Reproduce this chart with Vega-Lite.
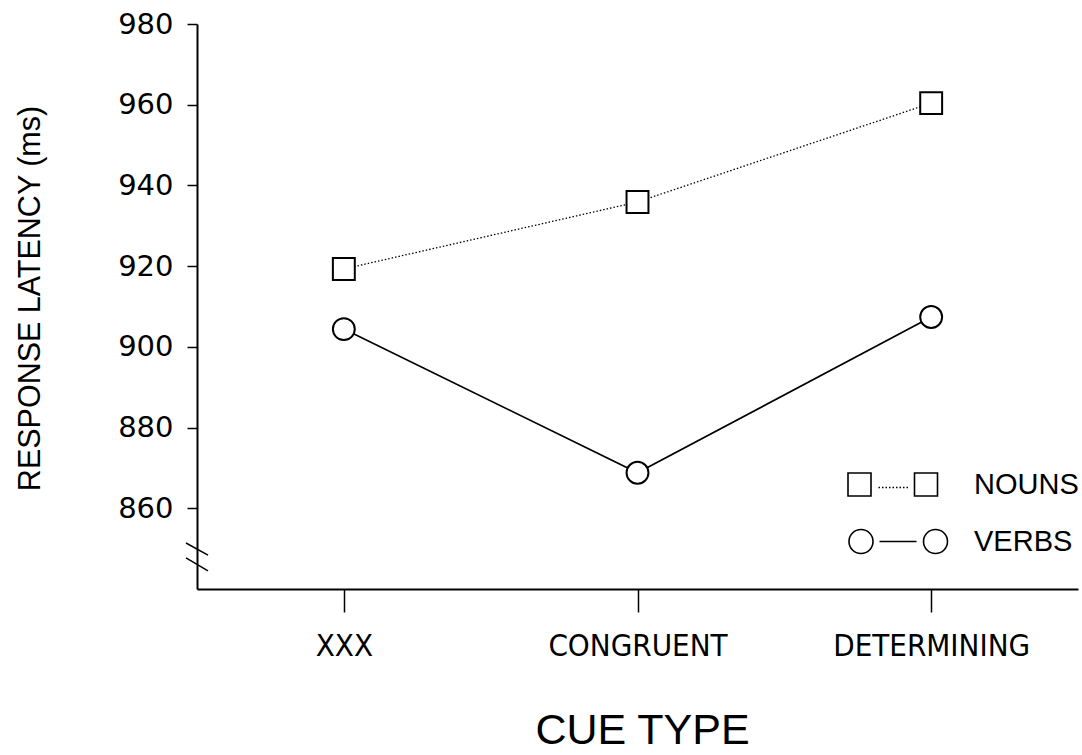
{
  "$schema": "https://vega.github.io/schema/vega-lite/v6.json",
  "width": 881,
  "height": 565,
  "autosize": "none",
  "padding": {"left": 197, "top": 24, "right": 4, "bottom": 166},
  "background": "white",
  "config": {"view": {"stroke": null}},
  "datasets": {
    "main": [
      {"cue": "XXX", "series": "NOUNS", "latency": 919.3},
      {"cue": "CONGRUENT", "series": "NOUNS", "latency": 935.9},
      {"cue": "DETERMINING", "series": "NOUNS", "latency": 960.4},
      {"cue": "XXX", "series": "VERBS", "latency": 904.4},
      {"cue": "CONGRUENT", "series": "VERBS", "latency": 868.8},
      {"cue": "DETERMINING", "series": "VERBS", "latency": 907.4}
    ],
    "breaks": [
      {"y": 851.4, "y2": 848.4},
      {"y": 847.7, "y2": 844.5}
    ]
  },
  "resolve": {"scale": {"shape": "independent"}, "legend": {"shape": "independent"}},
  "layer": [
    {
      "data": {"name": "main"},
      "transform": [{"filter": "datum.series === 'NOUNS'"}],
      "mark": {"type": "line", "color": "black", "strokeWidth": 1.3, "strokeDash": [1.5, 2]},
      "encoding": {
        "x": {
          "field": "cue", "type": "ordinal", "sort": ["XXX", "CONGRUENT", "DETERMINING"],
          "scale": {"type": "point", "padding": 0.5},
          "axis": {
            "title": "CUE TYPE",
            "domainColor": "black", "domainWidth": 2,
            "tickColor": "black", "tickWidth": 1.5, "tickSize": 23,
            "labelFont": "DejaVu Sans Condensed, Liberation Sans, sans-serif",
            "labelFontSize": 31, "labelColor": "black", "labelPadding": 19,
            "labelAngle": 0, "labelLimit": 0,
            "titleFont": "Liberation Sans, sans-serif", "titleFontSize": 43,
            "titleFontWeight": "normal", "titleColor": "black",
            "titleX": 445, "titleY": 154, "titleBaseline": "alphabetic", "titleAlign": "center"
          }
        },
        "y": {
          "field": "latency", "type": "quantitative",
          "scale": {"domain": [840, 980], "nice": false, "zero": false},
          "axis": {
            "title": "RESPONSE LATENCY (ms)",
            "values": [860, 880, 900, 920, 940, 960, 980],
            "grid": false,
            "domainColor": "black", "domainWidth": 2,
            "tickColor": "black", "tickWidth": 1.5, "tickSize": 10,
            "labelFont": "DejaVu Sans, sans-serif", "labelFontSize": 29, "labelColor": "black", "labelPadding": 14,
            "titleFont": "Liberation Sans, sans-serif", "titleFontSize": 30.5,
            "titleFontWeight": "normal", "titleColor": "black",
            "titleX": -167, "titleY": 274, "titleAngle": -90, "titleAlign": "center", "titleBaseline": "middle"
          }
        }
      }
    },
    {
      "data": {"name": "main"},
      "transform": [{"filter": "datum.series === 'VERBS'"}],
      "mark": {"type": "line", "color": "black", "strokeWidth": 1.7},
      "encoding": {
        "x": {"field": "cue", "type": "ordinal", "sort": ["XXX", "CONGRUENT", "DETERMINING"]},
        "y": {"field": "latency", "type": "quantitative"}
      }
    },
    {
      "data": {"name": "main"},
      "mark": {"type": "point", "filled": false, "fill": "white", "fillOpacity": 1, "stroke": "black", "strokeWidth": 2, "size": 480, "opacity": 1},
      "encoding": {
        "x": {"field": "cue", "type": "ordinal", "sort": ["XXX", "CONGRUENT", "DETERMINING"]},
        "y": {"field": "latency", "type": "quantitative"},
        "shape": {
          "field": "series", "type": "nominal",
          "scale": {"domain": ["NOUNS", "VERBS"], "range": ["square", "circle"]},
          "legend": null
        }
      }
    },
    {
      "data": {"name": "main"},
      "mark": {"type": "point", "filled": false, "stroke": "black", "strokeWidth": 1.6, "size": 0},
      "encoding": {
        "x": {"field": "cue", "type": "ordinal", "sort": ["XXX", "CONGRUENT", "DETERMINING"]},
        "y": {"field": "latency", "type": "quantitative"},
        "shape": {
          "field": "series", "type": "nominal",
          "scale": {"domain": ["NOUNS", "VERBS"], "range": [
            "M-5.05,-1.15L-2.75,-1.15L-2.75,1.15L-5.05,1.15Z M1.6,-1.15L3.9,-1.15L3.9,1.15L1.6,1.15Z M-2,0.3L-1.85,0.3 M-1.65,0.3L-1.5,0.3 M-1.3,0.3L-1.15,0.3 M-0.95,0.3L-0.8,0.3 M-0.6,0.3L-0.45,0.3 M-0.25,0.3L-0.1,0.3 M0.1,0.3L0.25,0.3 M0.45,0.3L0.6,0.3 M0.8,0.3L0.95,0.3",
            "M-4.95,0A1.2,1.2 0 1,0 -2.55,0A1.2,1.2 0 1,0 -4.95,0Z M2.5,0A1.2,1.2 0 1,0 4.9,0A1.2,1.2 0 1,0 2.5,0Z M-1.9,0L1.8,0"
          ]},
          "legend": {
            "title": null,
            "orient": "none",
            "legendX": 687,
            "legendY": 446,
            "symbolSize": 400,
            "symbolStrokeWidth": 1.6,
            "symbolStrokeColor": "black",
            "symbolFillColor": "transparent",
            "symbolOpacity": 1,
            "labelFont": "Liberation Sans, sans-serif",
            "labelFontSize": 29,
            "labelColor": "black",
            "labelOffset": 61,
            "rowPadding": 26
          }
        }
      }
    },
    {
      "data": {"name": "breaks"},
      "mark": {"type": "rule", "color": "black", "strokeWidth": 1.5},
      "encoding": {
        "x": {"value": -11},
        "x2": {"value": 11},
        "y": {"field": "y", "type": "quantitative"},
        "y2": {"field": "y2"}
      }
    }
  ]
}
